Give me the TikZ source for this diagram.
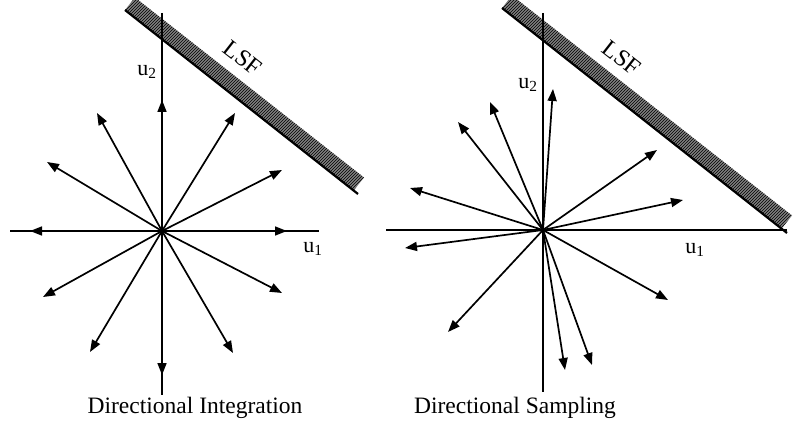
\documentclass[tikz,border=0pt]{standalone}
\usepackage{fontspec}
\setmainfont{Liberation Serif}
\usetikzlibrary{arrows.meta,patterns}
\begin{document}
\begin{tikzpicture}[x=1pt,y=-1pt,
  axisline/.style={line width=2.3pt},
  vec/.style={line width=1.7pt,-{Triangle[length=12pt,width=9pt]}},
  lsfline/.style={line width=2.2pt},
  band/.style={fill=black!50,draw=none},
  hatch/.style={pattern=north east lines,pattern color=black},
  lbl/.style={font=\fontsize{22}{26}\selectfont,inner sep=0pt},
  lsflbl/.style={font=\fontsize{24}{28}\selectfont,inner sep=0pt,rotate=-38},
  captext/.style={font=\fontsize{23.5}{28}\selectfont,inner sep=0pt}]
\path[use as bounding box] (0,0) rectangle (797,430);

% ---------------- Left: Directional Integration ----------------
\coordinate (O1) at (162,231);
\coordinate (XL1) at (10,231);
\coordinate (XR1) at (319,231);
\coordinate (YT1) at (162,13);
\coordinate (YB1) at (162,395);
% LSF band
\coordinate (LA) at (125,10);
\coordinate (LB) at (358,194);
\coordinate (LC) at (354,190);
\coordinate (LD) at (364,177.5);
\coordinate (LE) at (135,-2.5);
\fill[band] (LA) -- (LC) -- (LD) -- (LE) -- cycle;
\fill[hatch] (LA) -- (LC) -- (LD) -- (LE) -- cycle;
\draw[lsfline] (LA) -- (LB);
\node[lsflbl] (lsf1) at (243,58) {LSF};
% axes
\draw[axisline] (XL1) -- (XR1);
\draw[axisline] (YT1) -- (YB1);
% direction vectors
\foreach \n/\x/\y in {a/287/231, b/282/170, c/235/113, d/162/100, e/97/113, f/47/162,
                      g/30/231, h/43/297, i/90/352, j/162/375, k/233/353, l/282/293}{
  \coordinate (L\n) at (\x,\y);
  \draw[vec] (O1) -- (L\n);
}
\node[lbl] (u21) at (147,72) {u\textsubscript{2}};
\node[lbl] (u11) at (313,249) {u\textsubscript{1}};
\node[captext] (cap1) at (195,408) {Directional Integration};

% ---------------- Right: Directional Sampling ----------------
\coordinate (O2) at (543,230);
\coordinate (XL2) at (386,230);
\coordinate (XR2) at (787,230);
\coordinate (YT2) at (543,13);
\coordinate (YB2) at (543,392);
% LSF band
\coordinate (RA) at (502,8);
\coordinate (RB) at (787,233);
\coordinate (RC) at (782,228);
\coordinate (RD) at (792,215.5);
\coordinate (RE) at (512,-4.5);
\fill[band] (RA) -- (RC) -- (RD) -- (RE) -- cycle;
\fill[hatch] (RA) -- (RC) -- (RD) -- (RE) -- cycle;
\draw[lsfline] (RA) -- (RB);
\node[lsflbl] (lsf2) at (622,58) {LSF};
% axes
\draw[axisline] (XL2) -- (XR2);
\draw[axisline] (YT2) -- (YB2);
% sampled directions
\foreach \n/\x/\y in {a/553/89, b/490/102, c/458/122, d/410/188, e/405/248, f/448/332,
                      g/565/370, h/592/365, i/668/300, j/683/200, k/657/150}{
  \coordinate (R\n) at (\x,\y);
  \draw[vec] (O2) -- (R\n);
}
\node[lbl] (u22) at (528,85) {u\textsubscript{2}};
\node[lbl] (u12) at (695,250) {u\textsubscript{1}};
\node[captext] (cap2) at (515,408) {Directional Sampling};
\end{tikzpicture}
\end{document}
